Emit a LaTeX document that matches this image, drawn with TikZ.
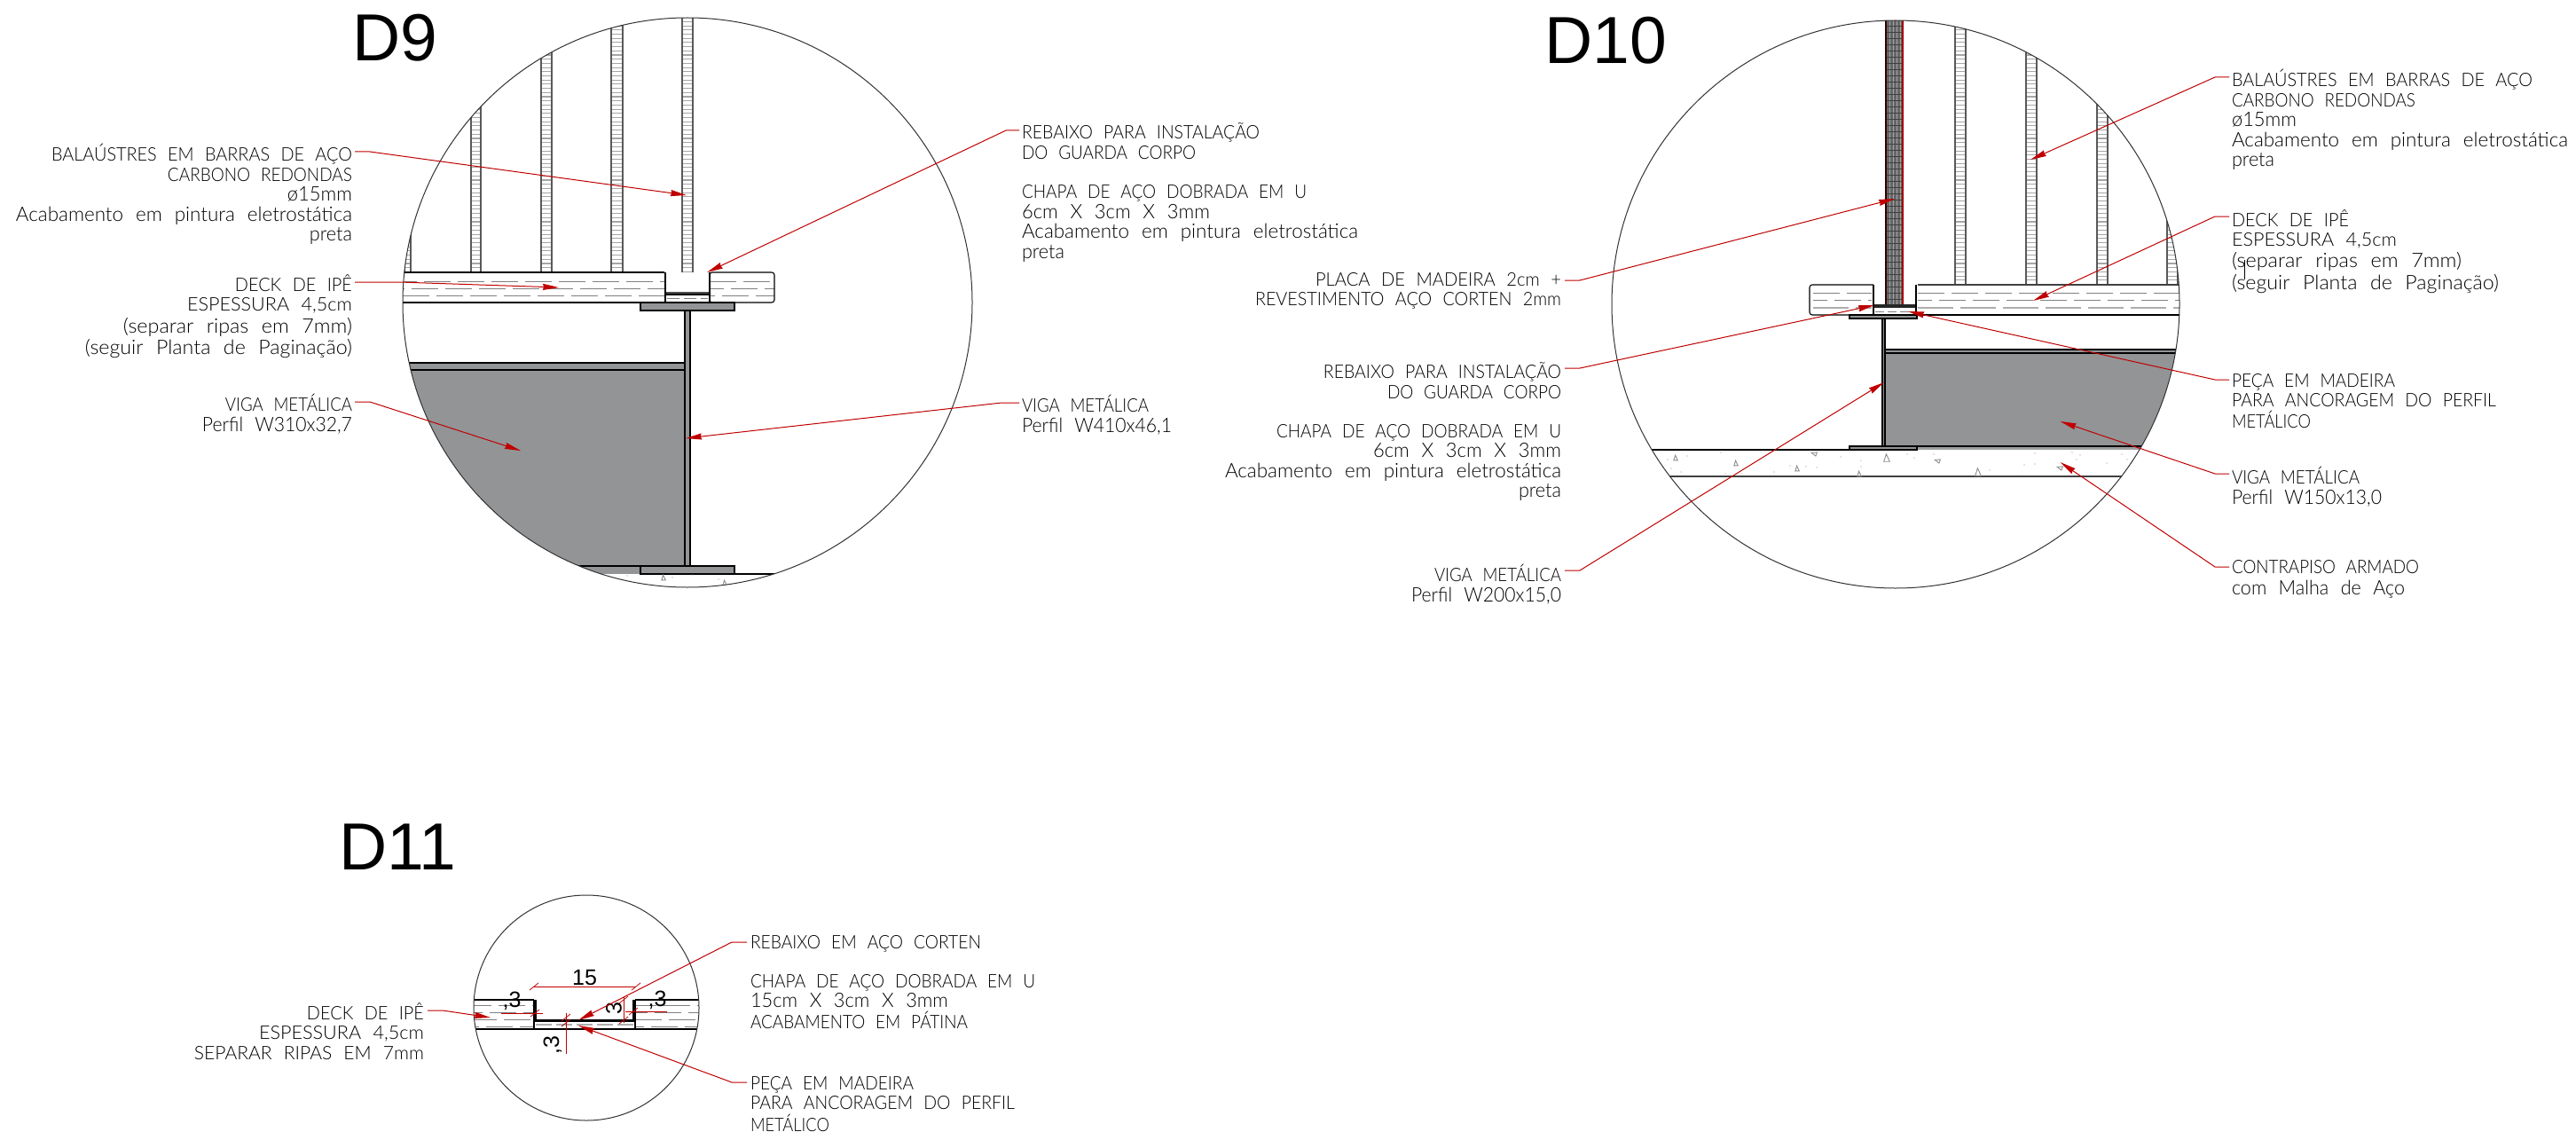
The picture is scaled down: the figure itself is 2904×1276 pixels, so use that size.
\documentclass[tikz,border=0pt]{standalone}
\usepackage{fontspec}
\usepackage{graphicx}
\setmainfont{Liberation Sans}
\newfontfamily\cadfont[UprightFont=* Light,WordSpace=2.3]{Lato}
\usetikzlibrary{arrows.meta,calc}
\definecolor{steel}{HTML}{929496}
\definecolor{leadred}{HTML}{C00000}
\newcommand\cadstrut{\rule{0pt}{16pt}}
% a line of caps, and a line with lower case, each brought to its printed width
\newcommand\cp[2]{\resizebox{#1pt}{\height}{\fontsize{21}{22.4}\selectfont #2}}
\newcommand\lc[2]{\resizebox{#1pt}{\height}{\fontsize{22.5}{22.4}\selectfont #2}}
\tikzset{
  x=1pt,y=-1pt,
  lab/.style={inner sep=0pt,outer sep=0pt,text=black,font=\cadfont\fontsize{21}{22.4}\selectfont,execute at begin node=\cadstrut},
  labr/.style={lab,anchor=north east,align=right},
  labl/.style={lab,anchor=north west,align=left},
  ttl/.style={inner sep=0pt,anchor=base west,font=\fontsize{75}{75}\selectfont},
  dimt/.style={inner sep=0pt,font=\fontsize{25}{25}\selectfont},
  leader/.style={draw=leadred,line width=1pt,-{Stealth[length=18pt,width=7pt,inset=1pt,fill=leadred]}},
  ring/.style={draw=black!80,line width=1pt},
  edge/.style={draw=black,line width=1.1pt},
  thick edge/.style={draw=black,line width=1.3pt},
  dk/.style={draw=black!50,line width=.9pt,dash pattern=on 30pt off 8pt},
  dkl/.style={draw=black!32,line width=1.2pt,dash pattern=on 40pt off 8pt},
  cc/.style={draw=black!45,line width=.9pt},
  dimr/.style={draw=leadred,line width=.8pt},
  bartick/.style={draw=black!35,line width=1.1pt},
}
% baluster: x-left, x-right, y-top, y-bottom
\newcommand\baluster[4]{%
  \pgfmathsetmacro\ysecond{#3+4.7}%
  \foreach \yy in {#3,\ysecond,...,#4}{\draw[bartick] (#1,\yy) -- (#2,\yy);}%
  \draw[draw=black!65,line width=1.2pt] (#1,#3) -- (#1,#4) (#2,#3) -- (#2,#4);}
% concrete mark: x,y,size,rotation
\newcommand\aggr[4]{\draw[cc,shift={(#1,#2)},rotate=#4] (-#3*.55,#3*.7) -- (#3*.55,#3*.7) -- (-#3*.1,-#3*.7) -- cycle;}
\newcommand\spk[2]{\fill[black!45] (#1,#2) circle (.6);}
\begin{document}
\begin{tikzpicture}
\useasboundingbox (0,0) rectangle (2904,1276);
\fill[white] (0,0) rectangle (2904,1276);
\coordinate (c9) at (775,341);
\coordinate (c10) at (2137,343);
\coordinate (c11) at (661,1136);

% ---------------- D9
\begin{scope}
\clip (c9) circle (321);
\fill[steel] (440,409) rectangle (772,647);
\draw[edge] (440,409) -- (772,409) (440,417) -- (772,417) (440,638) -- (722,638);
\foreach \xa/\xb in {456/463,531/542,610/622,689/702,769/781}{\baluster{\xa}{\xb}{15}{307}}
\draw[dk] (440,317) -- (749,317) (800,317) -- (873,317);
\draw[dk,dash phase=14pt] (440,325) -- (749,325) (800,325) -- (873,325);
\draw[dk,dash phase=24pt] (440,333) -- (749,333) (800,333) -- (873,333);
\draw[edge] (440,307) -- (749,307) (440,341) -- (750,341);
\draw[edge,rounded corners=3pt] (800,307) -- (873,307) -- (873,341) -- (800,341) -- cycle;
\draw[dk,dash pattern=on 14pt off 5pt] (752,336) -- (798,336);
\fill[black!70] (750,329) rectangle (800,332);
\draw[thick edge] (750,307) -- (750,332) -- (800,332) -- (800,307);
\draw[edge] (750,332) -- (750,341) (800,332) -- (800,341);
\draw[edge] (722,647) -- (1000,647);
\draw[thick edge,fill=steel] (722,341) rectangle (828,350);
\draw[thick edge,fill=steel] (772,350) rectangle (778,640);
\draw[thick edge,fill=steel] (722,638) rectangle (828,647);
\aggr{748}{651}{4}{0}\aggr{817}{657}{4}{0}\spk{707}{649}\spk{758}{651}\spk{781}{648}\spk{810}{653}
\end{scope}
\draw[ring] (c9) circle (321);

% ---------------- D10
\begin{scope}
\clip (c10) circle (320);
\fill[steel] (2125,394) rectangle (2470,503);
\fill[steel!90] (2161,503) rectangle (2470,507);
\draw[edge] (2125,394) -- (2470,394) (2125,398) -- (2470,398) (2125,503) -- (2470,503);
\foreach \xa/\xb in {2204/2216,2284/2296,2364/2376,2443/2455}{\baluster{\xa}{\xb}{15}{321}}
% post
\fill[black!60] (2126,15) rectangle (2145,343);
\foreach \xx in {2130,2134,2138,2142}{\draw[black!35,line width=.8pt] (\xx,15) -- (\xx,343);}
\pgfmathsetmacro\ysec{15+7}
\foreach \yy in {15,\ysec,...,343}{\draw[black!75,line width=.8pt] (2127,\yy) -- (2144,\yy);}
\draw[draw=black!80!red,line width=1.7pt] (2126,15) -- (2126,343);
\draw[draw=leadred!85!black,line width=1.7pt] (2145,15) -- (2145,343);
% deck
\draw[dk] (2162,330) -- (2470,330) (2044,330) -- (2110,330);
\draw[dk,dash phase=14pt] (2162,338) -- (2470,338) (2044,338) -- (2110,338);
\draw[dkl] (2162,347) -- (2470,347) (2044,347) -- (2110,347);
\draw[edge,rounded corners=3pt] (2112,321) -- (2040,321) -- (2040,355) -- (2112,355);
\draw[draw=black!75,line width=1.6pt] (2162,321) -- (2470,321);
\draw[edge] (2160,355) -- (2470,355);
\draw[dk,dash pattern=on 10pt off 4pt] (2114,351) -- (2158,351);
\fill[black!85] (2112,343) rectangle (2160,346.5);
\draw[thick edge] (2112,321) -- (2112,346) (2160,321) -- (2160,346);
\draw[edge] (2112,346) -- (2112,355) (2160,346) -- (2160,355);
% steel section
\draw[edge,fill=steel] (2085,355) rectangle (2161,359);
\draw[thick edge,fill=steel] (2122,359) rectangle (2125,503);
\draw[edge,fill=steel] (2085,503) rectangle (2161,507);
% slab
\draw[edge] (1850,507) -- (2085,507);
\draw[edge,draw=black!75] (1870,537) -- (2410,537);
\aggr{1889}{516}{4}{0}\aggr{1957}{522}{4}{0}\aggr{2045}{511}{4}{70}\aggr{2026}{528}{4}{0}\aggr{2127}{516}{6}{0}
\aggr{2184}{519}{4}{70}\aggr{2096}{534}{4}{0}\aggr{2230}{532}{6}{0}\aggr{2322}{527}{4}{70}
\foreach \a/\b in {1880/518,1902/514,1940/510,1884/528,1895/532,1945/534,1963/534,2000/532,2018/525,2036/526,2048/527,2075/515,2098/519,2098/526,2150/512,2158/516,2180/512,2243/530,2278/536,2282/524,2294/511,2294/523,2336/510,2345/513,2341/518,2375/522,2392/512,2398/518}{\spk{\a}{\b}}
\end{scope}
\draw[ring] (c10) circle (320);

% ---------------- D11
\begin{scope}
\clip (c11) circle (127);
\draw[dk,dash phase=6pt] (530,1133) -- (602,1133) (716,1133) -- (790,1133);
\draw[dk,dash phase=16pt] (530,1141) -- (602,1141) (716,1141) -- (790,1141);
\draw[dk] (530,1149) -- (602,1149) (716,1149) -- (790,1149);
\draw[dk,dash phase=20pt] (530,1157) -- (602,1157) (716,1157) -- (790,1157);
\draw[dkl,dash pattern=on 18pt off 5pt] (604,1155) -- (714,1155);
\draw[edge] (530,1127) -- (602,1127) (716,1127) -- (790,1127);
\draw[edge] (530,1160) -- (790,1160);
\draw[edge] (602,1127) -- (602,1160) (716,1127) -- (716,1160);
\draw[draw=black,line width=2.6pt] (604,1127) -- (604,1150.5) -- (714.5,1150.5) -- (714.5,1127);
\end{scope}
\draw[ring] (c11) circle (127);
% dimensions of D11
\node[dimt] (d15) at (659,1102) {15};
\node[dimt] (d3a) at (577,1128) {,3};
\node[dimt] (d3b) at (741,1127) {,3};
\node[dimt,rotate=90] (d3c) at (692,1137) {3};
\node[dimt,rotate=90] (d3d) at (623,1178) {,3};
\coordinate (da) at (602,1112); \coordinate (db) at (717,1112);
\coordinate (dc) at (565,1142); \coordinate (dd) at (612,1142);
\coordinate (de) at (705,1140); \coordinate (df) at (752,1140);
\coordinate (dg) at (703,1123); \coordinate (dh) at (703,1153);
\coordinate (di) at (638,1142); \coordinate (dj) at (638,1188);
\draw[dimr] (da) -- (db);
\draw[dimr] (dc) -- (dd);
\draw[dimr] (de) -- (df);
\draw[dimr] (dg) -- (dh);
\draw[dimr] (di) -- (dj);
\foreach \xt/\yt in {602/1112,717/1112,603/1142,714/1140,703/1127,703/1150,638/1147,638/1153}{
  \draw[dimr] (\xt-5,\yt+4) -- (\xt+5,\yt-4);}

% ---------------- titles
\node[ttl] (t9) at (397,69) {D9};
\node[ttl] (t10) at (1741,72) {D10};
\node[ttl] (t11) at (382,980) {D11};

% ---------------- labels D9
\node[labr] (a1) at (397,162.5) {\cp{339}{BALAÚSTRES EM BARRAS DE AÇO}\\\cp{208}{CARBONO REDONDAS}\\\lc{73}{ø15mm}\\\lc{379}{Acabamento em pintura eletrostática}\\\lc{48}{preta}};
\node[labr] (a2) at (397,309.5) {\cp{132}{DECK DE IPÊ}\\\cp{186}{ESPESSURA 4,5cm}\\[2pt]\lc{258}{(separar ripas em 7mm)}\\[2pt]\lc{301}{(seguir Planta de Paginação)}};
\node[labr] (a3) at (397,444.5) {\cp{143}{VIGA METÁLICA}\\\lc{169}{Perfil W310x32,7}};
\node[labl] (a4) at (1152,138.5) {\cp{268}{REBAIXO PARA INSTALAÇÃO}\\\cp{196}{DO GUARDA CORPO}\\[22.4pt]\cp{321}{CHAPA DE AÇO DOBRADA EM U}\\\lc{212}{6cm X 3cm X 3mm}\\\lc{379}{Acabamento em pintura eletrostática}\\\lc{48}{preta}};
\node[labl] (a5) at (1152,445.5) {\cp{143}{VIGA METÁLICA}\\\lc{169}{Perfil W410x46,1}};
\coordinate (p1) at (774,220);
\coordinate (p2) at (630,324);
\coordinate (p3) at (587,508);
\coordinate (p4) at (797,307);
\coordinate (p5) at (773,494);
\draw[leader] ($(a1.north east)+(3,8.5)$) -- ++(17,0) -- (p1);
\draw[leader] ($(a2.north east)+(3,8.5)$) -- ++(50,0) -- (p2);
\draw[leader] ($(a3.north east)+(3,8.5)$) -- ++(17,0) -- (p3);
\draw[leader] ($(a4.north west)+(-3,8.5)$) -- ++(-15,0) -- (p4);
\draw[leader] ($(a5.north west)+(-3,8.5)$) -- ++(-20,0) -- (p5);

% ---------------- labels D10
\node[labr] (b1) at (1760,307.5) {\cp{277}{PLACA DE MADEIRA 2cm +}\\\cp{345}{REVESTIMENTO AÇO CORTEN 2mm}};
\node[labr] (b2) at (1760,408.5) {\cp{268}{REBAIXO PARA INSTALAÇÃO}\\\cp{196}{DO GUARDA CORPO}\\[22pt]\cp{321}{CHAPA DE AÇO DOBRADA EM U}\\\lc{212}{6cm X 3cm X 3mm}\\\lc{379}{Acabamento em pintura eletrostática}\\\lc{48}{preta}};
\node[labr] (b3) at (1760,636.5) {\cp{143}{VIGA METÁLICA}\\\lc{169}{Perfil W200x15,0}};
\node[labl] (b4) at (2516,78.5) {\cp{339}{BALAÚSTRES EM BARRAS DE AÇO}\\\cp{207}{CARBONO REDONDAS}\\\lc{73}{ø15mm}\\\lc{379}{Acabamento em pintura eletrostática}\\\lc{48}{preta}};
\node[labl] (b5) at (2516,236.5) {\cp{132}{DECK DE IPÊ}\\\cp{186}{ESPESSURA 4,5cm}\\[1.5pt]\lc{259}{(separar ripas em 7mm)}\\[2.5pt]\lc{301}{(seguir Planta de Paginação)}};
\node[labl] (b6) at (2516,421.5) {\cp{184}{PEÇA EM MADEIRA}\\\cp{298}{PARA ANCORAGEM DO PERFIL}\\[1pt]\cp{89}{METÁLICO}};
\node[labl] (b7) at (2516,526.5) {\cp{144}{VIGA METÁLICA}\\\lc{169}{Perfil W150x13,0}};
\node[labl] (b8) at (2516,631.5) {\cp{211}{CONTRAPISO ARMADO}\\[1.5pt]\lc{195}{com Malha de Aço}};
\coordinate (q1) at (2136,224);
\coordinate (q2) at (2113,344);
\coordinate (q3) at (2124,431);
\coordinate (q4) at (2289,180);
\coordinate (q5) at (2292,339);
\coordinate (q6) at (2151,351);
\coordinate (q7) at (2322.5,475);
\coordinate (q8) at (2322.5,521);
\draw[leader] ($(b1.north east)+(4,8.5)$) -- ++(17,0) -- (q1);
\draw[leader] ($(b2.north east)+(4,6.5)$) -- ++(17,0) -- (q2);
\draw[leader] ($(b3.north east)+(4,6.5)$) -- ++(17,0) -- (q3);
\draw[leader] ($(b4.north west)+(-3,8.5)$) -- ++(-16,0) -- (q4);
\draw[leader] ($(b5.north west)+(-3,7.5)$) -- ++(-16,0) -- (q5);
\draw[leader] ($(b6.north west)+(-3,6.5)$) -- ++(-16,0) -- (q6);
\draw[leader] ($(b7.north west)+(-3,7.5)$) -- ++(-16,0) -- (q7);
\draw[leader] ($(b8.north west)+(-3,7.5)$) -- ++(-16,0) -- (q8);
\coordinate (s1) at (2530,293); \coordinate (s2) at (2530,315);
\draw[draw=black,line width=1pt] (s1) -- (s2);

% ---------------- labels D11
\node[labr] (e1) at (478,1130.5) {\cp{132}{DECK DE IPÊ}\\\cp{186}{ESPESSURA 4,5cm}\\\cp{259}{SEPARAR RIPAS EM 7mm}};
\node[labl] (e2) at (846,1054.5) {\cp{260}{REBAIXO EM AÇO CORTEN}\\[21.6pt]\cp{321}{CHAPA DE AÇO DOBRADA EM U}\\\lc{223}{15cm X 3cm X 3mm}\\[1.5pt]\cp{245}{ACABAMENTO EM PÁTINA}};
\node[labl] (e3) at (846,1213.5) {\cp{184}{PEÇA EM MADEIRA}\\\cp{298}{PARA ANCORAGEM DO PERFIL}\\[2pt]\cp{89}{METÁLICO}};
\coordinate (r1) at (553,1147);
\coordinate (r2) at (652,1150);
\coordinate (r3) at (652,1156);
\draw[leader] ($(e1.north east)+(4,8.5)$) -- ++(17,0) -- (r1);
\draw[leader] ($(e2.north west)+(-4,7.5)$) -- ++(-17,0) -- (r2);
\draw[leader] ($(e3.north west)+(-4,6.5)$) -- ++(-17,0) -- (r3);
\end{tikzpicture}
\end{document}
